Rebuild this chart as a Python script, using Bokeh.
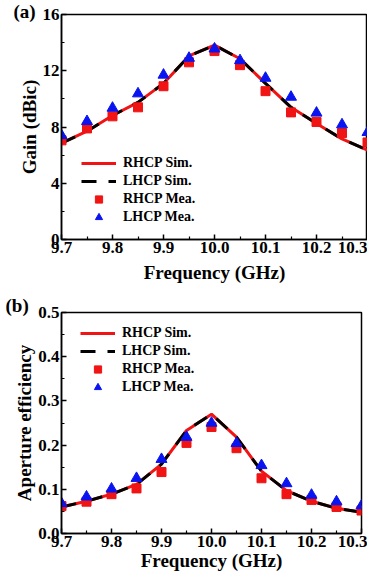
from bokeh.plotting import figure
from bokeh.layouts import column
from bokeh.models import Legend, LegendItem, Title, FixedTicker
from bokeh.embed import file_html
from bokeh.resources import INLINE

freq = [9.7, 9.75, 9.8, 9.85, 9.9, 9.95, 10.0, 10.05, 10.1, 10.15, 10.2, 10.25, 10.3]

gain_rhcp_sim = [6.85, 7.7, 8.82, 9.75, 11.1, 13.05, 13.82, 12.85, 11.1, 9.4, 8.25, 7.15, 6.35]
gain_lhcp_sim = [6.85, 7.7, 8.82, 9.75, 11.1, 13.05, 13.82, 12.85, 11.1, 9.4, 8.25, 7.15, 6.35]
gain_rhcp_mea = [7.05, 7.9, 8.76, 9.4, 10.9, 12.6, 13.4, 12.4, 10.55, 9.04, 8.36, 7.57, 6.9]
gain_lhcp_mea = [7.4, 8.4, 9.35, 10.37, 11.7, 12.9, 13.56, 12.73, 11.48, 10.13, 9.0, 8.17, 7.62]

eff_rhcp_sim = [0.060, 0.073, 0.089, 0.111, 0.157, 0.233, 0.270, 0.218, 0.141, 0.097, 0.073, 0.057, 0.048]
eff_lhcp_sim = [0.060, 0.073, 0.089, 0.111, 0.157, 0.233, 0.270, 0.218, 0.141, 0.097, 0.073, 0.057, 0.048]
eff_rhcp_mea = [0.062, 0.072, 0.089, 0.102, 0.139, 0.205, 0.241, 0.193, 0.125, 0.089, 0.076, 0.060, 0.052]
eff_lhcp_mea = [0.068, 0.083, 0.101, 0.125, 0.168, 0.218, 0.250, 0.204, 0.154, 0.113, 0.087, 0.072, 0.063]

x_ticks = [9.7, 9.8, 9.9, 10.0, 10.1, 10.2, 10.3]
x_minor = [9.75, 9.85, 9.95, 10.05, 10.15, 10.25]
gain_ticks = [0, 4, 8, 12, 16]
gain_minor = [2, 6, 10, 14]
eff_ticks = [0.0, 0.1, 0.2, 0.3, 0.4, 0.5]
eff_minor = [0.05, 0.15, 0.25, 0.35, 0.45]

FONT = "Liberation Serif"
RED = "#f01414"
BLUE = "#0a14f0"


def style(p, ylabel, yt, ymt, yfmt, xlabel_standoff):
    p.xaxis.ticker = FixedTicker(ticks=x_ticks, minor_ticks=x_minor)
    p.yaxis.ticker = FixedTicker(ticks=yt, minor_ticks=ymt)
    p.xaxis.major_label_overrides = {t: "%.1f" % t for t in x_ticks}
    p.yaxis.major_label_overrides = {t: yfmt % t for t in yt}
    for ax in (p.xaxis[0], p.yaxis[0]):
        ax.major_tick_in = 5
        ax.major_tick_out = 0
        ax.minor_tick_in = 3
        ax.minor_tick_out = 0
        ax.axis_line_width = 1.5
        ax.major_tick_line_width = 1.5
        ax.minor_tick_line_width = 1.2
        ax.major_label_text_font = FONT
        ax.major_label_text_font_style = "bold"
        ax.major_label_text_font_size = "17px"
        ax.major_label_text_color = "black"
        ax.axis_label_text_font = FONT
        ax.axis_label_text_font_style = "bold"
        ax.axis_label_text_font_size = "19px"
        ax.axis_label_text_color = "black"
        ax.major_label_standoff = 2
        ax.axis_label_standoff = 0
    p.xaxis.axis_label_standoff = xlabel_standoff
    p.xaxis.axis_label = "Frequency (GHz)"
    p.yaxis.axis_label = ylabel
    p.grid.visible = False
    p.outline_line_color = "black"
    p.outline_line_width = 1.5
    p.background_fill_color = "white"
    p.border_fill_color = "white"


def add_series(p, rs, ls, rm, lm, loc):
    r1 = p.line(freq, rs, line_color=RED, line_width=3)
    r2 = p.line(freq, ls, line_color="black", line_width=3, line_dash="15 12")
    r3 = p.scatter(freq, rm, marker="square", size=9, fill_color=RED, line_color=RED)
    r4 = p.scatter(freq, lm, marker="triangle", size=11, fill_color=BLUE, line_color=BLUE)
    leg = Legend(items=[LegendItem(label="RHCP Sim.", renderers=[r1]),
                        LegendItem(label="LHCP Sim.", renderers=[r2]),
                        LegendItem(label="RHCP Mea.", renderers=[r3]),
                        LegendItem(label="LHCP Mea.", renderers=[r4])],
                 location=loc, padding=0, margin=0, spacing=0,
                 glyph_width=35, glyph_height=18, label_height=18,
                 label_standoff=7, border_line_color=None,
                 background_fill_alpha=0,
                 label_text_font=FONT, label_text_font_style="bold",
                 label_text_font_size="14px", label_text_color="black")
    p.add_layout(leg, "center")


def panel_title(text, offset, standoff):
    return Title(text=text, align="left", offset=offset, standoff=standoff,
                 vertical_align="bottom", text_font=FONT, text_font_style="bold",
                 text_font_size="19px", text_color="black")


p1 = figure(frame_width=306, frame_height=225, x_range=(9.7, 10.3), y_range=(0, 16),
            output_backend="svg", toolbar_location=None,
            min_border_left=55, min_border_right=6, min_border_top=14, min_border_bottom=51)
p1.title = panel_title("(a)", -48, -14)
style(p1, "Gain (dBic)", gain_ticks, gain_minor, "%d", 6)
add_series(p1, gain_rhcp_sim, gain_lhcp_sim, gain_rhcp_mea, gain_lhcp_mea, (20, 13))

p2 = figure(frame_width=300, frame_height=221, x_range=(9.7, 10.3), y_range=(0, 0.5),
            output_backend="svg", toolbar_location=None,
            min_border_left=61, min_border_right=6, min_border_top=22, min_border_bottom=10)
p2.title = panel_title("(b)", -56, -6)
style(p2, "Aperture efficiency", eff_ticks, eff_minor, "%.1f", 0)
add_series(p2, eff_rhcp_sim, eff_lhcp_sim, eff_rhcp_mea, eff_lhcp_mea, (19, 137))

layout = column(p1, p2, spacing=0)
open("out.html", "w").write(file_html(layout, INLINE))
